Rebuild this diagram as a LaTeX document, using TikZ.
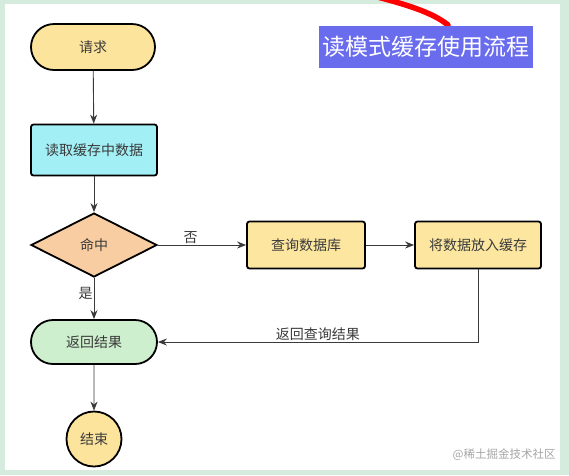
\documentclass[tikz,border=0pt]{standalone}
\usepackage{fontspec}
\setmainfont{Noto Sans CJK SC}
\usetikzlibrary{arrows.meta,shapes.geometric,shapes.misc}
\definecolor{framegreen}{HTML}{D5EBDD}
\definecolor{startyellow}{HTML}{FDE49C}
\definecolor{readcyan}{HTML}{A2EFF6}
\definecolor{hitpeach}{HTML}{F9CDA2}
\definecolor{stepyellow}{HTML}{FDE7A0}
\definecolor{resultgreen}{HTML}{CDEFCD}
\definecolor{titleblue}{HTML}{6A6CEE}
\definecolor{inkgray}{HTML}{3A3A3A}
\begin{document}
\begin{tikzpicture}[x=1pt,y=-1pt,line width=.9pt,
  font=\fontsize{14}{16}\selectfont,
  term/.style={rounded rectangle,draw=black,line width=1.8pt,text=inkgray,minimum width=124pt,minimum height=46pt,inner sep=0pt},
  stepbox/.style={rectangle,rounded corners=2.5pt,draw=black,line width=1.8pt,text=inkgray,minimum height=47pt,inner sep=0pt},
  decide/.style={diamond,draw=black,line width=1.8pt,text=inkgray,minimum width=126pt,minimum height=64pt,aspect=1.97,inner sep=0pt},
  flow/.style={draw=inkgray,-{Stealth[length=9pt,width=7pt]}},
  tag/.style={text=inkgray,inner sep=1pt}]
\useasboundingbox (0,0) rectangle (569,475);
\clip (0,0) rectangle (569,475);
\fill[framegreen] (0,0) rectangle (569,475);
\fill[white] (5,4) rectangle (560,470);
\draw[red,line width=5.5pt,line cap=round] (366,-6) .. controls (405,4) and (432,12) .. (448,25);
\node[fill=titleblue,text=white,font=\fontsize{23}{26}\selectfont,minimum width=214pt,minimum height=42pt,inner sep=0pt] (title) at (426,47) {读模式缓存使用流程};
\node[term,fill=startyellow] (req) at (93,47) {请求};
\node[stepbox,fill=readcyan,minimum width=126pt,minimum height=51pt] (read) at (94,150) {读取缓存中数据};
\node[decide,fill=hitpeach] (hit) at (94,245) {命中};
\node[stepbox,fill=stepyellow,minimum width=118pt] (query) at (306,245) {查询数据库};
\node[stepbox,fill=stepyellow,minimum width=126pt] (cache) at (478,245) {将数据放入缓存};
\node[term,fill=resultgreen,minimum width=126pt,minimum height=44pt] (result) at (94,342) {返回结果};
\node[circle,draw=black,line width=1.8pt,fill=startyellow,text=inkgray,minimum size=55pt,inner sep=0pt] (end) at (94,439) {结束};
\draw[flow] (req) -- (read);
\draw[flow] (read) -- (hit);
\draw[flow] (hit) -- node[tag,above,pos=.37] {否} (query);
\draw[flow] (query) -- (cache);
\draw[flow] (hit) -- node[tag,left,pos=.37] {是} (result);
\draw[flow] (cache.south) |- node[tag,above,pos=.75] {返回查询结果} (result.east);
\draw[flow] (result) -- (end);
\node[text=gray!70,font=\fontsize{11.5}{13}\selectfont,anchor=east,inner sep=0pt] (mark) at (556,455) {@稀土掘金技术社区};
\end{tikzpicture}
\end{document}
